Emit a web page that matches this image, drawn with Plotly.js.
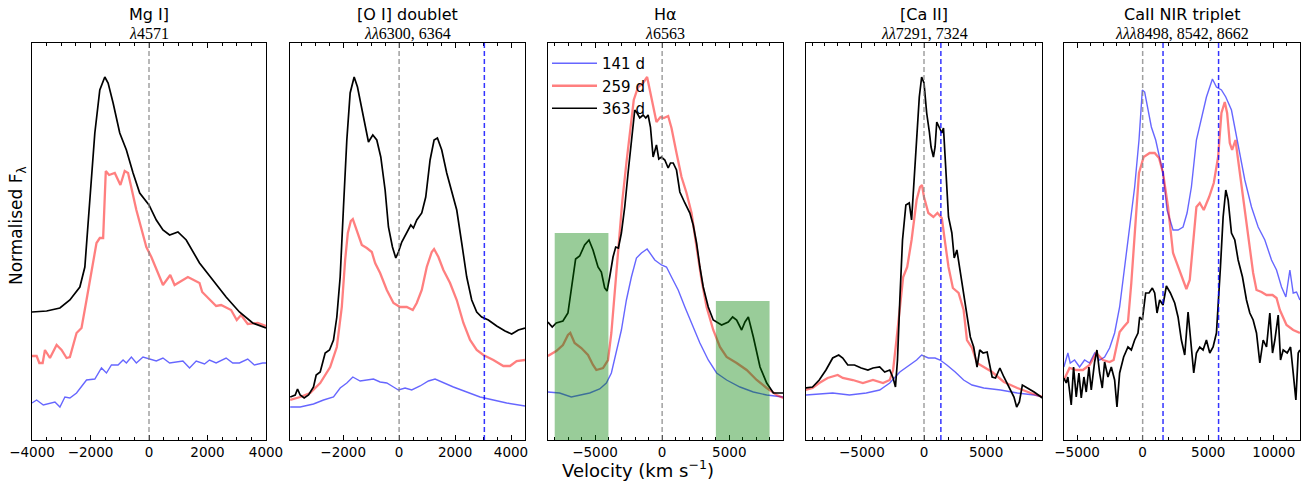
<!DOCTYPE html>
<html><head><meta charset="utf-8">
<script src="https://cdn.plot.ly/plotly-3.0.1.min.js"></script>
<style>html,body{margin:0;padding:0;background:#fff}#chart{width:1307px;height:487px}</style>
</head><body><div id="chart"></div>
<script>
// ---------- data (velocity in km/s, normalised flux in arbitrary units) ----------
const epochs = ["141 d", "259 d", "363 d"];
const panelTitles = ["Mg I]", "[O I] doublet", "Hα", "[Ca II]", "CaII NIR triplet"];
const panelSubtitles = ["<i>λ</i>4571", "<i>λλ</i>6300, 6364", "<i>λ</i>6563", "<i>λλ</i>7291, 7324", "<i>λλλ</i>8498, 8542, 8662"];
const xRanges = [[-4000, 4000], [-3900, 4500], [-8500, 9000], [-9500, 9500], [-6000, 12000]];
const majorTicks = [2000, 2000, 5000, 5000, 5000];
const minorTicks = [500, 500, 1000, 1000, 1000];
const restLines = [0, 0, 0, 0, 0];
const companionLines = [[], [3047], [], [1358], [1553, 5790]];
const boxX0 = [-8000, 4000];
const boxX1 = [-4000, 8000];
const boxTop = [207, 139];

// Mg I]
const mgV141 = [-4000,-3841,-3614,-3386,-3216,-3045,-2875,-2705,-2477,-2136,-1852,-1625,-1455,-1284,-1057,-886,-773,-602,-432,-205,23,250,477,705,1159,1386,1614,1898,2068,2295,2636,2864,3091,3375,3602,3886,4000];
const mgF141 = [37,40,35,37,38,33,43,42,47,60,61,72,67,75,75,80,77,83,77,83,81,79,82,77,79,72,79,76,80,77,82,77,77,81,75,77,77];
const mgV259 = [-4000,-3841,-3750,-3636,-3557,-3386,-3159,-2989,-2818,-2705,-2477,-2307,-2136,-1966,-1795,-1682,-1568,-1477,-1364,-1170,-977,-830,-716,-432,-91,80,477,727,875,1330,1727,1818,2295,2466,2807,3000,3148,3375,3716,4000];
const mgF259 = [84,84,77,77,90,82,95,90,82,83,107,112,140,170,197,202,202,269,265,267,255,269,267,230,193,183,155,165,155,163,157,148,134,135,130,120,125,116,117,114];
const mgV363 = [-4000,-3500,-3045,-2705,-2364,-2193,-2023,-1852,-1682,-1511,-1398,-1227,-1000,-773,-545,-318,0,250,477,705,989,1273,1727,2182,2636,3091,3545,4000];
const mgF363 = [128,129,132,140,153,173,240,307,350,363,357,337,307,290,267,247,235,220,210,205,208,200,177,160,143,128,117,112];

// [O I]
const oiV141 = [-3893,-3536,-3060,-2702,-2345,-2107,-1869,-1655,-1393,-1155,-917,-679,-440,-202,-24,214,452,750,1048,1286,1583,1940,2417,2893,3369,3845,4500];
const oiF141 = [33,33,36,40,43,52,57,63,59,60,61,58,57,53,50,52,50,54,59,61,57,53,48,43,40,37,34];
const oiV259 = [-3893,-3536,-3179,-2821,-2464,-2226,-2048,-1929,-1833,-1726,-1655,-1512,-1333,-1155,-976,-857,-679,-440,-202,36,274,488,631,810,988,1167,1250,1405,1583,1821,2060,2298,2536,2774,3012,3369,3726,3964,4202,4500];
const oiF259 = [40,43,47,57,73,93,133,180,207,219,221,210,195,192,188,177,167,150,137,133,133,130,137,150,173,188,191,183,170,157,140,117,100,90,85,80,74,74,79,80];
const oiV363 = [-3893,-3714,-3631,-3536,-3393,-3238,-3060,-2964,-2821,-2643,-2488,-2345,-2226,-2107,-1988,-1869,-1750,-1607,-1488,-1333,-1214,-1095,-940,-798,-655,-500,-381,-238,-119,-24,95,274,417,512,631,810,952,1107,1250,1369,1524,1702,1881,2060,2238,2417,2595,2774,2952,3190,3488,3786,4024,4262,4500];
const oiF363 = [43,45,51,45,42,45,53,65,68,87,90,100,123,163,233,300,347,363,353,330,313,298,305,300,283,250,213,193,182,188,198,207,215,212,220,227,243,280,300,302,290,267,247,230,197,163,140,128,123,120,114,109,106,110,112];

// H alpha
const haV141 = [-8507,-7637,-6766,-6144,-5398,-4652,-4154,-3781,-3408,-3035,-2662,-2289,-1915,-1542,-1119,-920,-547,-50,323,697,1194,1692,2313,2811,3433,4055,4801,5796,6791,7786,9030];
const haF141 = [48,47,43,45,47,51,57,67,87,110,140,163,182,187,191,187,180,175,173,163,150,133,113,97,80,67,60,53,48,45,43];
const haV259 = [-8507,-7886,-7388,-7015,-6841,-6518,-6020,-5522,-5149,-4901,-4403,-4030,-3781,-3532,-3284,-2960,-2662,-2413,-2114,-1791,-1418,-1119,-796,-423,-124,124,448,697,1070,1443,1816,2189,2562,2935,3309,3806,4304,4801,5547,6294,7040,7786,8532,9030];
const haF259 = [84,89,95,105,107,97,92,85,75,70,72,80,107,147,193,240,277,307,340,353,357,363,343,318,323,322,324,312,287,263,247,227,193,160,133,110,93,83,77,70,60,52,45,42];
const haV363 = [-8507,-8184,-7886,-7388,-7015,-6766,-6443,-6144,-5771,-5448,-5149,-4776,-4527,-4279,-4105,-3906,-3657,-3458,-3259,-3035,-2786,-2537,-2289,-2040,-1866,-1667,-1418,-1219,-1045,-871,-672,-423,-249,-50,199,448,622,821,1070,1318,1692,2065,2313,2562,2811,3060,3433,3806,4428,4925,5249,5547,5920,6169,6418,6791,7289,7786,8284,9030];
const haF363 = [118,113,117,119,127,150,181,184,195,200,190,173,168,152,149,163,183,193,192,207,233,267,300,330,327,322,325,322,325,313,283,295,281,283,280,272,277,277,270,248,237,227,215,197,173,153,133,120,115,118,123,120,110,118,123,103,73,57,47,47];

// [Ca II]
const caV141 = [-9569,-8433,-7352,-6001,-4649,-3568,-2757,-1946,-1135,-595,-189,351,892,1297,1838,2514,3190,3865,4811,6163,7514,8866,9542];
const caF141 = [45,46,47,45,47,50,57,68,75,80,85,82,82,80,75,68,60,55,52,50,47,45,43];
const caV259 = [-9569,-8974,-8433,-7758,-6947,-6541,-5730,-4920,-4109,-3298,-2757,-2487,-2216,-1946,-1676,-1352,-1000,-595,-324,-162,0,351,757,1081,1433,1703,1973,2325,2784,3190,3460,3865,4271,4811,5487,6433,7514,8595,9542];
const caF259 = [50,52,57,62,65,62,60,57,60,57,60,70,100,133,163,173,200,240,253,255,243,227,223,227,222,197,173,152,147,130,100,92,77,73,68,58,52,47,43];
const caV363 = [-9569,-8974,-8433,-7893,-7352,-6866,-6541,-6136,-5595,-5055,-4514,-4109,-3568,-3163,-2757,-2487,-2298,-2135,-1946,-1730,-1460,-1189,-1000,-811,-595,-378,-189,0,216,432,568,757,892,1027,1243,1433,1568,1784,1973,2243,2433,2649,2865,3190,3460,3730,4000,4271,4487,4757,5082,5487,5757,6109,6433,6920,7244,7460,7677,7920,8325,8866,9542];
const caF363 = [52,53,60,70,82,85,82,75,75,72,70,72,73,68,70,62,53,80,140,200,235,237,220,253,300,343,363,357,327,308,293,283,293,318,312,307,312,257,223,207,182,190,173,150,127,103,93,73,90,87,88,63,62,72,63,50,43,33,38,55,52,48,42];

// Ca II NIR triplet
const irV141 = [-6009,-5703,-5525,-5194,-4812,-4430,-4048,-3666,-3284,-2902,-2521,-2139,-1757,-1375,-993,-611,-280,-25,153,407,662,993,1298,1553,1859,2062,2317,2699,3081,3386,3717,4099,4481,4863,5321,5627,6009,6340,6772,7282,7791,8300,8809,9318,9828,10209,10591,10922,11228,11482,11737,11992];
const irF141 = [73,87,77,80,73,80,77,87,80,83,92,107,133,173,207,253,300,350,348,330,313,300,283,267,230,220,210,210,213,227,253,300,323,343,361,353,350,343,330,293,260,233,213,200,180,170,153,143,170,147,148,140];
const irV259 = [-6009,-5576,-5067,-4557,-4048,-3539,-3030,-2521,-2215,-2011,-1757,-1451,-1120,-866,-611,-280,76,535,917,1248,1553,1935,2317,2699,3081,3335,3590,3844,4099,4354,4659,5067,5423,5754,6009,6263,6441,6645,6823,7078,7358,7663,8045,8427,8682,9064,9446,9904,10209,10464,10973,11482,11992];
const irF259 = [60,72,70,70,75,87,80,78,80,93,108,113,118,157,207,267,283,287,287,282,267,233,187,173,160,151,160,200,233,237,230,243,257,283,327,338,327,297,290,300,273,240,207,167,150,148,145,145,142,130,115,110,107];
const irV363 = [-6009,-5830,-5703,-5448,-5270,-5067,-4863,-4685,-4481,-4303,-4099,-3921,-3666,-3488,-3284,-3081,-2902,-2648,-2393,-2139,-1960,-1757,-1451,-1120,-866,-611,-356,-229,-25,229,484,738,917,1095,1298,1553,1808,2113,2444,2699,2953,3208,3463,3641,3895,4099,4354,4608,4863,5117,5372,5627,5754,5932,6136,6340,6518,6772,7027,7282,7613,7918,8173,8427,8682,8936,9191,9446,9700,9904,10082,10337,10515,10718,11024,11279,11482,11686,11864,11992];
const irF363 = [62,57,63,35,73,43,67,42,63,48,73,50,78,90,67,52,78,63,73,60,33,67,83,93,90,100,107,123,120,147,147,152,147,127,140,135,154,147,137,123,100,85,128,103,67,87,93,90,100,87,93,107,140,173,223,250,240,207,200,180,163,140,127,120,107,77,100,93,127,87,100,125,80,90,87,93,67,40,87,90];

// ---------- styling / layout ----------
const W = 1307, H = 487;
const panelPx = [[32, 266], [290, 525], [548, 783], [806, 1042], [1064, 1300]];
const plotTop = 43, plotBottom = 440;
const yMax = 397;
const lineColors = ["rgba(0,0,255,0.6)", "rgba(255,0,0,0.5)", "rgb(0,0,0)"];
const lineWidths = [1.4, 2.3, 1.7];

const seriesV = [[mgV141, mgV259, mgV363], [oiV141, oiV259, oiV363], [haV141, haV259, haV363], [caV141, caV259, caV363], [irV141, irV259, irV363]];
const seriesF = [[mgF141, mgF259, mgF363], [oiF141, oiF259, oiF363], [haF141, haF259, haF363], [caF141, caF259, caF363], [irF141, irF259, irF363]];

const traces = [];
const layout = {
  width: W, height: H,
  margin: {l: 0, r: 0, t: 0, b: 0},
  paper_bgcolor: "#fff", plot_bgcolor: "#fff",
  font: {family: "DejaVu Sans", color: "#000"},
  showlegend: true,
  legend: {x: 547 / W, xanchor: "left", y: 1 - 47 / H, yanchor: "top",
           bgcolor: "rgba(0,0,0,0)", font: {size: 15, family: "DejaVu Sans"},
           itemwidth: 45, tracegroupgap: 0},
  shapes: [], annotations: []
};

for (let p = 0; p < 5; p++) {
  const xa = p === 0 ? "x" : "x" + (p + 1);
  const ya = p === 0 ? "y" : "y" + (p + 1);
  for (let s = 0; s < 3; s++) {
    traces.push({
      x: seriesV[p][s], y: seriesF[p][s], xaxis: xa, yaxis: ya,
      type: "scatter", mode: "lines", name: epochs[s],
      line: {color: lineColors[s], width: lineWidths[s]},
      showlegend: p === 2, hoverinfo: "skip"
    });
  }
  const dom = [panelPx[p][0] / W, panelPx[p][1] / W];
  const xKey = p === 0 ? "xaxis" : "xaxis" + (p + 1);
  const yKey = p === 0 ? "yaxis" : "yaxis" + (p + 1);
  layout[xKey] = {
    domain: dom, anchor: ya, range: xRanges[p], showgrid: false, zeroline: false,
    showline: true, linecolor: "#000", linewidth: 1, mirror: "ticks",
    ticks: "inside", ticklen: 5, tickwidth: 1, tickcolor: "#000",
    dtick: majorTicks[p], tick0: 0, tickformat: "d",
    tickfont: {size: 13.5, family: "DejaVu Sans", color: "#000"},
    minor: {dtick: minorTicks[p], tick0: 0, ticks: "inside", ticklen: 3, tickcolor: "#000", tickwidth: 1, showgrid: false}
  };
  layout[yKey] = {
    domain: [1 - plotBottom / H, 1 - plotTop / H], anchor: xa, range: [0, yMax],
    showgrid: false, zeroline: false, showticklabels: false, ticks: "",
    showline: true, linecolor: "#000", linewidth: 1, mirror: true
  };
  // rest-wavelength line
  layout.shapes.push({type: "line", xref: xa, yref: ya + " domain", x0: restLines[p], x1: restLines[p], y0: 0, y1: 1,
    line: {color: "rgba(128,128,128,0.75)", width: 1.5, dash: "5px,3px"}, layer: "above"});
  companionLines[p].forEach(v => layout.shapes.push({type: "line", xref: xa, yref: ya + " domain", x0: v, x1: v, y0: 0, y1: 1,
    line: {color: "rgba(0,0,255,0.8)", width: 1.5, dash: "5px,3px"}, layer: "above"}));
  const cx = (panelPx[p][0] + panelPx[p][1]) / 2 / W;
  layout.annotations.push({text: panelTitles[p], xref: "paper", yref: "paper", x: cx, y: 1 - 15 / H,
    xanchor: "center", yanchor: "middle", showarrow: false, font: {size: 16, family: "DejaVu Sans", color: "#000"}});
  layout.annotations.push({text: panelSubtitles[p], xref: "paper", yref: "paper", x: cx, y: 1 - 33 / H,
    xanchor: "center", yanchor: "middle", showarrow: false, font: {size: 16, family: "Liberation Serif", color: "#000"}});
}
// shaded continuum regions in H alpha panel
for (let i = 0; i < boxX0.length; i++) {
  layout.shapes.push({type: "rect", xref: "x3", yref: "y3", x0: boxX0[i], x1: boxX1[i], y0: 0, y1: boxTop[i],
    fillcolor: "green", opacity: 0.4, line: {width: 0}, layer: "above"});
}
layout.annotations.push({text: "Normalised F<sub>λ</sub>", xref: "paper", yref: "paper", x: 17 / W, y: 1 - 226 / H,
  xanchor: "center", yanchor: "middle", textangle: -90, showarrow: false, font: {size: 17, family: "DejaVu Sans", color: "#000"}});
layout.annotations.push({text: "Velocity (km s<sup>−1</sup>)", xref: "paper", yref: "paper", x: 638 / W, y: 1 - 469 / H,
  xanchor: "center", yanchor: "middle", showarrow: false, font: {size: 18, family: "DejaVu Sans", color: "#000"}});

Plotly.newPlot("chart", traces, layout, {staticPlot: true, displayModeBar: false});
</script></body></html>
